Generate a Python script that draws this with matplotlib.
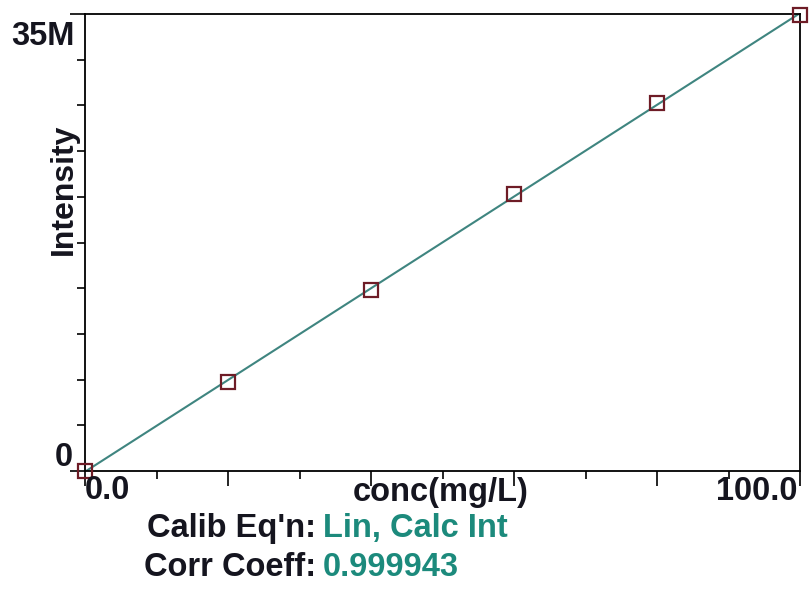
"""Calibration curve: intensity vs. concentration with linear fit."""

import matplotlib as mpl
import matplotlib.pyplot as plt
import numpy as np
from matplotlib.ticker import MultipleLocator

# calibration standards
conc_mg_l = [0.0, 20.0, 40.0, 60.0, 80.0, 100.0]
intensity = [0.0, 6.85e6, 13.89e6, 21.21e6, 28.16e6, 34.92e6]

x_limits = (0.0, 100.0)
y_limits = (0.0, 35e6)
x_tick_labels = ["0.0", "100.0"]
y_tick_labels = ["0", "35M"]

calib_eqn = "Lin, Calc Int"
corr_coeff = "0.999943"

LINE_COLOR = "#3f8580"
MARK_COLOR = "#6e1c26"
TEAL = "#1c8a7c"
INK = "#15151f"

mpl.rcParams.update({"font.family": ["Liberation Sans", "DejaVu Sans"], "font.weight": "bold"})

fig = plt.figure(figsize=(8.09, 5.90), dpi=100)
ax = fig.add_axes([85 / 809, 1 - 471 / 590, 715 / 809, 457 / 590])

slope, intercept = np.polyfit(conc_mg_l, intensity, 1)
fit_x = np.array(x_limits)
ax.plot(fit_x, slope * fit_x + intercept, color=LINE_COLOR, lw=1.5, zorder=2)
ax.plot(conc_mg_l, intensity, ls="none", marker="s", ms=9.5, mfc="none",
        mec=MARK_COLOR, mew=1.6, clip_on=False, zorder=3)

ax.set_xlim(*x_limits)
ax.set_ylim(*y_limits)

ax.xaxis.set_major_locator(MultipleLocator(20))
ax.xaxis.set_minor_locator(MultipleLocator(10))
ax.yaxis.set_major_locator(MultipleLocator(35e6))
ax.yaxis.set_minor_locator(MultipleLocator(3.5e6))
ax.tick_params(which="major", direction="out", length=11, width=1.2, labelleft=False, labelbottom=False)
ax.tick_params(which="minor", direction="out", length=6, width=1.2)
for side in ax.spines.values():
    side.set_linewidth(1.3)

fs = 23.5
# axis end labels, placed by hand like the instrument software does
ax.text(-0.015, 0.985, y_tick_labels[1], transform=ax.transAxes, ha="right", va="top",
        fontsize=fs, fontweight="bold", color=INK)
ax.text(-0.017, 0.03, y_tick_labels[0], transform=ax.transAxes, ha="right", va="center",
        fontsize=fs, fontweight="bold", color=INK)
ax.text(0.0, -0.042, x_tick_labels[0], transform=ax.transAxes, ha="left", va="center",
        fontsize=fs, fontweight="bold", color=INK)
ax.text(0.997, -0.045, x_tick_labels[1], transform=ax.transAxes, ha="right", va="center",
        fontsize=fs, fontweight="bold", color=INK)
ax.text(0.497, -0.047, "conc(mg/L)", transform=ax.transAxes, ha="center", va="center",
        fontsize=fs, fontweight="bold", color=INK)
ax.text(-0.03, 0.616, "Intensity", transform=ax.transAxes, rotation=90, ha="center",
        va="center", fontsize=23, fontweight="bold", color=INK)

# calibration summary below the plot
fig.text(316 / 809, 1 - 528 / 590, "Calib Eq'n:", ha="right", va="center", fontsize=fs,
         fontweight="bold", color=INK)
fig.text(323 / 809, 1 - 528 / 590, calib_eqn, ha="left", va="center", fontsize=fs,
         fontweight="bold", color=TEAL)
fig.text(316 / 809, 1 - 567 / 590, "Corr Coeff:", ha="right", va="center", fontsize=fs,
         fontweight="bold", color=INK)
fig.text(323 / 809, 1 - 567 / 590, corr_coeff, ha="left", va="center", fontsize=fs,
         fontweight="bold", color=TEAL)

fig.savefig("out.png", dpi=100)
plt.close(fig)
